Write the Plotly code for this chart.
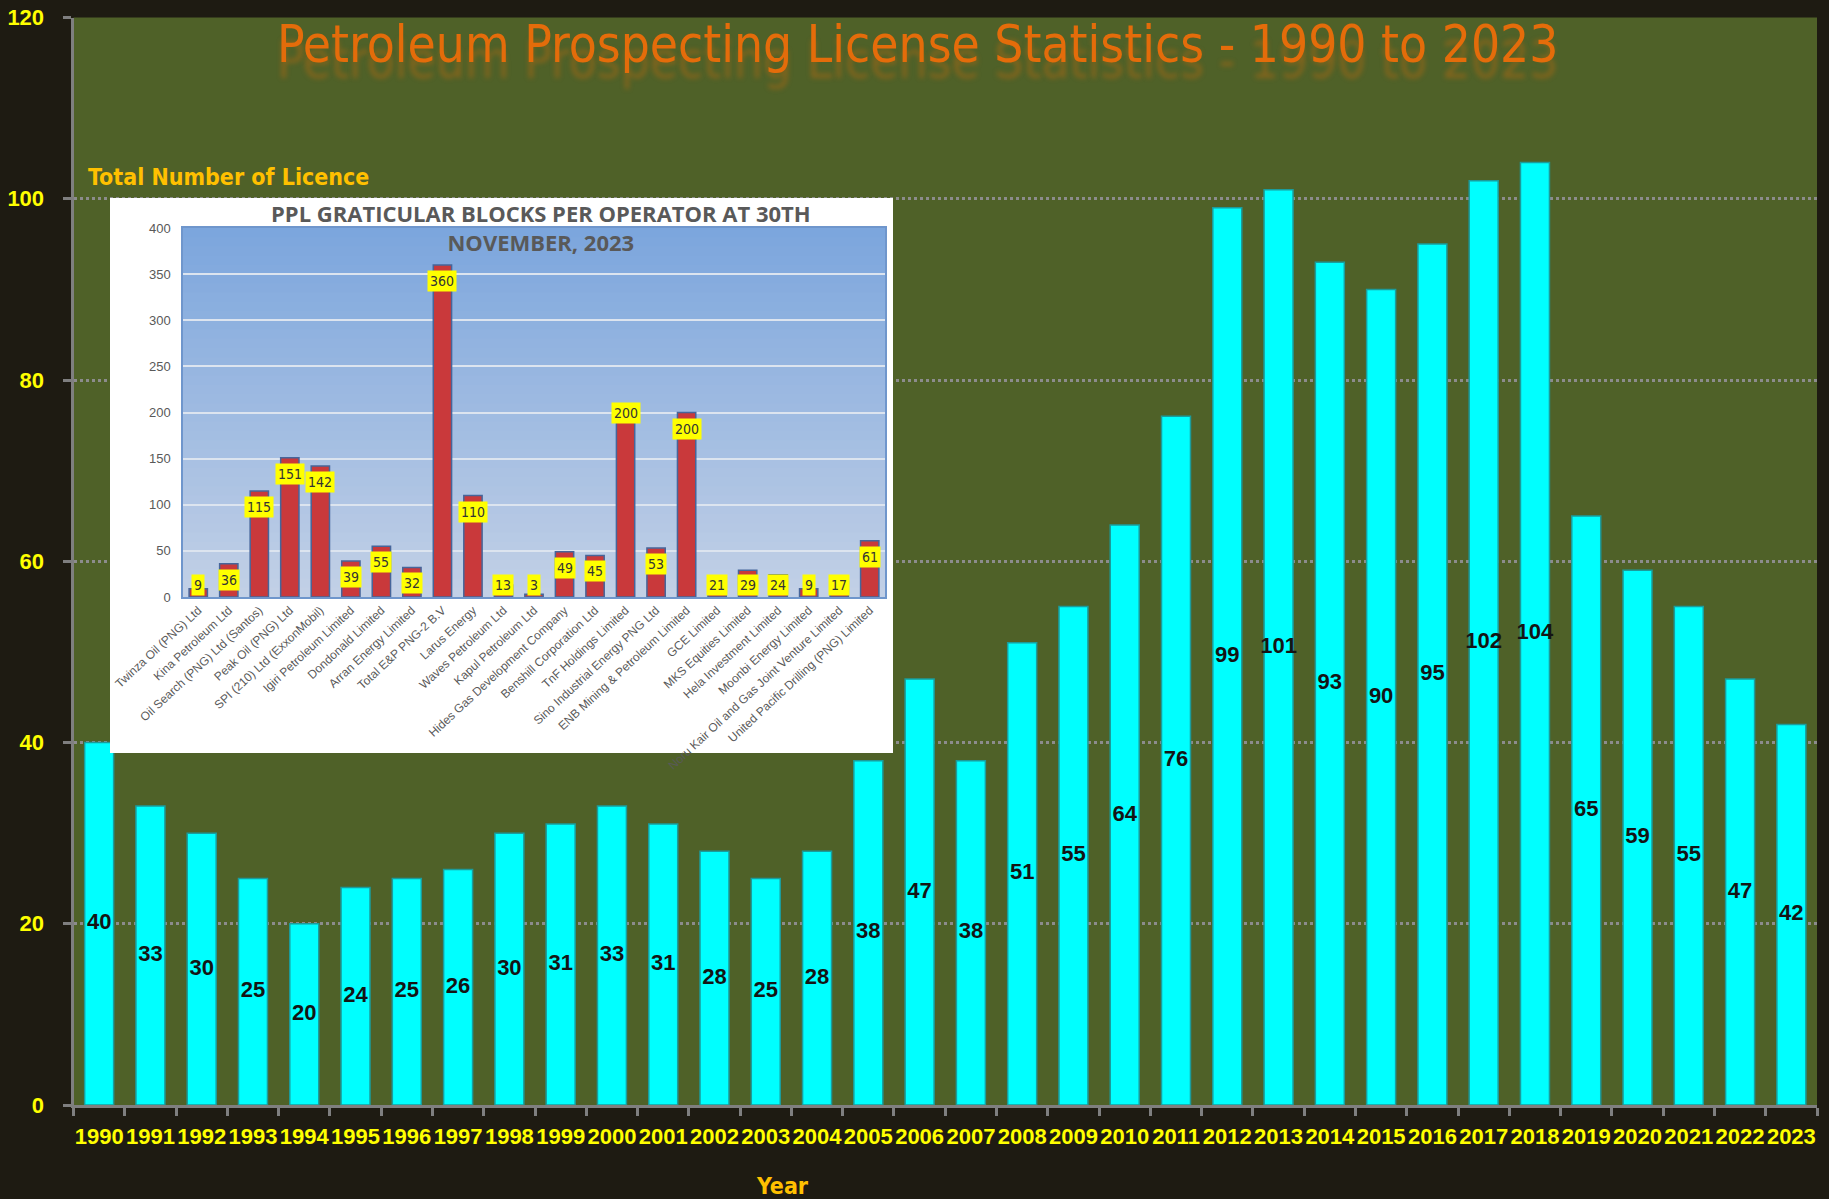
import plotly.graph_objects as go

# ---------------- data ----------------
years = ["1990", "1991", "1992", "1993", "1994", "1995", "1996", "1997", "1998", "1999",
         "2000", "2001", "2002", "2003", "2004", "2005", "2006", "2007", "2008", "2009",
         "2010", "2011", "2012", "2013", "2014", "2015", "2016", "2017", "2018", "2019",
         "2020", "2021", "2022", "2023"]
licences = [40, 33, 30, 25, 20, 24, 25, 26, 30, 31,
            33, 31, 28, 25, 28, 38, 47, 38, 51, 55,
            64, 76, 99, 101, 93, 90, 95, 102, 104, 65,
            59, 55, 47, 42]

operators = ["Twinza Oil (PNG) Ltd", "Kina Petroleum Ltd", "Oil Search (PNG) Ltd (Santos)",
             "Peak Oil (PNG) Ltd", "SPI (210) Ltd (ExxonMobil)", "Igiri Petroleum Limited",
             "Dondonald Limited", "Arran Energy Limited", "Total E&P PNG-2 B.V",
             "Larus Energy", "Waves Petroleum Ltd", "Kapul Petroleum Ltd",
             "Hides Gas Development Company", "Benshill Corporation Ltd", "TnF Holdings Limited",
             "Sino Industrial Energy PNG Ltd", "ENB Mining & Petroleum Limited", "GCE Limited",
             "MKS Equities Limited", "Hela Investment Limited", "Moonbi Energy Limited",
             "Noru Kair Oil and Gas Joint Venture Limited", "United Pacific Drilling (PNG) Limited"]
blocks = [9, 36, 115, 151, 142, 39, 55, 32, 360, 110, 13, 3, 49, 45, 200, 53, 200,
          21, 29, 24, 9, 17, 61]

main_title = "Petroleum Prospecting License Statistics - 1990 to 2023"
y_title = "Total Number of Licence"
x_title = "Year"
inset_title = "PPL GRATICULAR BLOCKS PER OPERATOR AT 30TH<br>NOVEMBER, 2023"

# ---------------- styling ----------------
W, H = 1829, 1199
COND = "DejaVu Sans Condensed, DejaVu Sans, sans-serif"
SANS = "Liberation Sans, Arial, sans-serif"
PAPER = "#1E1B12"
OLIVE = "#4F6128"
GRAY = "#7F7F7F"
YELLOW = "#FFFF00"


def fx(px):
    return px / W


def fy(px):
    return 1 - px / H


fig = go.Figure()

# main bars
fig.add_trace(go.Bar(
    x=years, y=licences, xaxis="x", yaxis="y",
    width=0.565,
    marker=dict(color="#00FFFF", line=dict(color="#1B9C9C", width=1.5)),
    hoverinfo="skip", showlegend=False,
))
# main value labels, centred in each bar
fig.add_trace(go.Scatter(
    x=years, y=[v / 2 for v in licences], xaxis="x", yaxis="y",
    mode="text", text=[str(v) for v in licences],
    textfont=dict(family=SANS, size=22, color="#141414", weight="bold"),
    hoverinfo="skip", showlegend=False, cliponaxis=False,
))

# white card for the inset (subplot x2y2)
fig.add_trace(go.Scatter(
    x=[0.5], y=[0.5], xaxis="x2", yaxis="y2", mode="markers",
    marker=dict(opacity=0), hoverinfo="skip", showlegend=False,
))

# inset bars (subplot x3y3)
fig.add_trace(go.Bar(
    x=operators, y=blocks, xaxis="x3", yaxis="y3",
    width=0.6,
    marker=dict(color="#C9393B", line=dict(color="#46659A", width=1.5)),
    hoverinfo="skip", showlegend=False,
))

shapes = [
    dict(type="rect", xref="x2", yref="y2", x0=0, x1=1, y0=0, y1=1,
         fillcolor="#FFFFFF", line=dict(width=0), layer="below"),
]
# vertical gradient for the inset plot area
n = 40
top_c = (124, 166, 221)
bot_c = (194, 208, 230)
for i in range(n):
    t = i / (n - 1)
    c = tuple(round(bot_c[k] + (top_c[k] - bot_c[k]) * t) for k in range(3))
    shapes.append(dict(type="rect", xref="x3", yref="y3",
                       x0=-0.5, x1=len(operators) - 0.5,
                       y0=400 * i / n, y1=400 * (i + 1) / n + 6,
                       fillcolor="rgb(%d,%d,%d)" % c, line=dict(width=0), layer="below"))

annotations = [
    dict(text=main_title, xref="paper", yref="paper", x=fx(917), y=fy(45),
         xanchor="center", yanchor="middle", showarrow=False,
         font=dict(family=COND, size=51, color="#E46C0A",
                   shadow="0px 16px 5px rgba(228,108,10,0.35)")),
    dict(text=y_title, xref="paper", yref="paper", x=fx(86), y=fy(177),
         xanchor="left", yanchor="middle", showarrow=False,
         font=dict(family=COND, size=23, color="#FFC000", weight="bold")),
    dict(text=x_title, xref="paper", yref="paper", x=fx(782), y=fy(1186),
         xanchor="center", yanchor="middle", showarrow=False,
         font=dict(family=COND, size=23, color="#FFC000", weight="bold")),
    dict(text=inset_title, xref="paper", yref="paper", x=fx(541), y=fy(227),
         xanchor="center", yanchor="middle", showarrow=False,
         font=dict(family="Open Sans, sans-serif", size=22, color="#595959", weight="bold")),
]
# inset data labels (yellow boxes near the top end of each bar)
for op, v in zip(operators, blocks):
    at_top = op == "TnF Holdings Limited"
    annotations.append(dict(
        x=op, y=v if at_top else max(v, 30), xref="x3", yref="y3",
        text=str(v), showarrow=False,
        xanchor="center", yanchor="middle" if at_top else "top",
        yshift=0 if at_top else -5,
        bgcolor="#FFFF00", borderpad=2,
        font=dict(family=COND, size=14, color="#333333"),
    ))

fig.update_layout(
    template="none",
    width=W, height=H, autosize=False,
    paper_bgcolor=PAPER, plot_bgcolor=OLIVE,
    margin=dict(l=0, r=0, t=0, b=0, pad=0),
    showlegend=False,
    shapes=shapes, annotations=annotations,
    xaxis=dict(
        domain=[fx(73.5), fx(1817)], anchor="y", type="category", automargin=False,
        range=[-0.5, len(years) - 0.5],
        tickson="boundaries", ticks="outside", ticklen=8, tickwidth=3, tickcolor=GRAY,
        showline=True, linewidth=3, linecolor=GRAY, showgrid=False, zeroline=False,
        tickangle=0, ticklabelstandoff=10,
        tickfont=dict(family=SANS, size=22, color=YELLOW, weight="bold"),
    ),
    yaxis=dict(
        domain=[fy(1105), fy(17.5)], anchor="x", automargin=False,
        range=[0, 120], dtick=20, tick0=0,
        ticks="outside", ticklen=8, tickwidth=3, tickcolor=GRAY,
        showline=True, linewidth=3, linecolor=GRAY,
        showgrid=True, gridcolor="#8C8C8C", griddash="dot", gridwidth=2.5,
        zeroline=False, ticklabelstandoff=14,
        tickfont=dict(family=SANS, size=22, color=YELLOW, weight="bold"),
    ),
    xaxis2=dict(domain=[fx(110), fx(893)], anchor="y2", range=[0, 1], visible=False,
                automargin=False),
    yaxis2=dict(domain=[fy(753), fy(198)], anchor="x2", range=[0, 1], visible=False,
                automargin=False),
    xaxis3=dict(
        domain=[fx(183), fx(885)], anchor="y3", type="category", automargin=False,
        range=[-0.5, len(operators) - 0.5],
        tickangle=-43, ticks="", showgrid=False, zeroline=False,
        showline=True, linecolor="#6F96CC", linewidth=1.5, mirror=True,
        tickfont=dict(family=SANS, size=12, color="#595959"),
    ),
    yaxis3=dict(
        domain=[fy(597), fy(228)], anchor="x3", automargin=False,
        range=[0, 400], dtick=50, tick0=0, ticks="",
        showgrid=True, gridcolor="#DCE4EF", gridwidth=1.5, zeroline=False,
        showline=True, linecolor="#6F96CC", linewidth=1.5, mirror=True,
        ticklabelstandoff=8,
        tickfont=dict(family=SANS, size=13, color="#595959"),
    ),
)

fig.write_html("out.html", config={"displayModeBar": False},
               post_script="document.body.style.margin='0';document.body.style.overflow='hidden';")
